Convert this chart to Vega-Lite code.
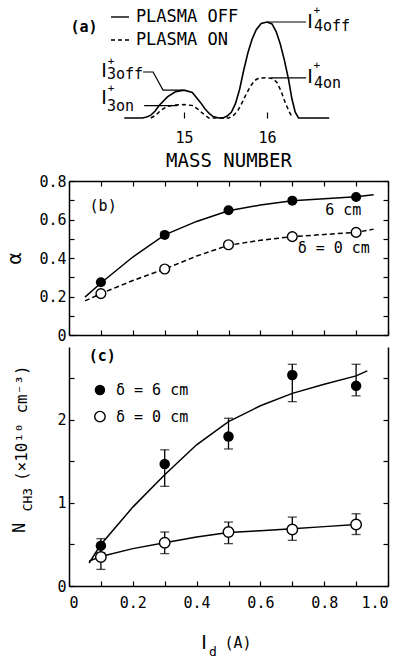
{
  "$schema": "https://vega.github.io/schema/vega-lite/v6.json",
  "padding": {"left": 4, "top": 5, "right": 5, "bottom": 5},
  "spacing": 4,
  "config": {
    "view": {"stroke": null},
    "font": "DejaVu Sans Mono",
    "axis": {"grid": false, "domainColor": "black", "domainWidth": 1.5, "tickColor": "black", "tickWidth": 1.2, "tickSize": -5, "labelColor": "black", "labelFont": "DejaVu Sans Mono", "labelFontSize": 15, "titleFont": "DejaVu Sans Mono", "titleFontSize": 16, "titleFontWeight": "normal", "titleColor": "black", "labelPadding": 8},
    "text": {"font": "DejaVu Sans Mono", "fontSize": 15, "color": "black"}
  },
  "datasets": {
    "aCurve": [
      {"x": 14.28, "y": 0, "s": "off"}, {"x": 14.5, "y": 0, "s": "off"}, {"x": 14.55, "y": 0.01, "s": "off"}, {"x": 14.6, "y": 0.03, "s": "off"}, {"x": 14.65, "y": 0.07, "s": "off"}, {"x": 14.7, "y": 0.13, "s": "off"}, {"x": 14.8, "y": 0.22, "s": "off"}, {"x": 14.9, "y": 0.275, "s": "off"}, {"x": 15.0, "y": 0.29, "s": "off"}, {"x": 15.1, "y": 0.265, "s": "off"}, {"x": 15.2, "y": 0.16, "s": "off"}, {"x": 15.25, "y": 0.1, "s": "off"}, {"x": 15.3, "y": 0.05, "s": "off"}, {"x": 15.35, "y": 0.015, "s": "off"}, {"x": 15.42, "y": 0, "s": "off"},
      {"x": 15.47, "y": 0, "s": "off"}, {"x": 15.52, "y": 0.02, "s": "off"}, {"x": 15.57, "y": 0.06, "s": "off"}, {"x": 15.62, "y": 0.15, "s": "off"}, {"x": 15.67, "y": 0.3, "s": "off"}, {"x": 15.72, "y": 0.5, "s": "off"}, {"x": 15.77, "y": 0.68, "s": "off"}, {"x": 15.82, "y": 0.82, "s": "off"}, {"x": 15.87, "y": 0.92, "s": "off"}, {"x": 15.93, "y": 0.985, "s": "off"}, {"x": 16.0, "y": 1.0, "s": "off"}, {"x": 16.06, "y": 0.98, "s": "off"}, {"x": 16.11, "y": 0.9, "s": "off"}, {"x": 16.16, "y": 0.77, "s": "off"}, {"x": 16.21, "y": 0.6, "s": "off"}, {"x": 16.26, "y": 0.4, "s": "off"}, {"x": 16.3, "y": 0.2, "s": "off"}, {"x": 16.34, "y": 0.06, "s": "off"}, {"x": 16.38, "y": 0, "s": "off"}, {"x": 16.75, "y": 0, "s": "off"},
      {"x": 14.6, "y": 0, "s": "on"}, {"x": 14.66, "y": 0.03, "s": "on"}, {"x": 14.72, "y": 0.08, "s": "on"}, {"x": 14.8, "y": 0.12, "s": "on"}, {"x": 14.88, "y": 0.135, "s": "on"}, {"x": 15.0, "y": 0.14, "s": "on"}, {"x": 15.1, "y": 0.13, "s": "on"}, {"x": 15.17, "y": 0.09, "s": "on"}, {"x": 15.23, "y": 0.045, "s": "on"}, {"x": 15.3, "y": 0, "s": "on"},
      {"x": 15.54, "y": 0, "s": "on"}, {"x": 15.6, "y": 0.03, "s": "on"}, {"x": 15.65, "y": 0.08, "s": "on"}, {"x": 15.7, "y": 0.16, "s": "on"}, {"x": 15.75, "y": 0.25, "s": "on"}, {"x": 15.8, "y": 0.33, "s": "on"}, {"x": 15.85, "y": 0.39, "s": "on"}, {"x": 15.9, "y": 0.415, "s": "on"}, {"x": 16.0, "y": 0.42, "s": "on"}, {"x": 16.07, "y": 0.41, "s": "on"}, {"x": 16.12, "y": 0.37, "s": "on"}, {"x": 16.17, "y": 0.28, "s": "on"}, {"x": 16.22, "y": 0.16, "s": "on"}, {"x": 16.27, "y": 0.06, "s": "on"}, {"x": 16.31, "y": 0, "s": "on"}
    ],
    "aLeg": [
      {"x": 14.12, "x2": 14.337, "y": 1.052, "s": "off"},
      {"x": 14.12, "x2": 14.337, "y": 0.8125, "s": "on"}
    ],
    "aLead": [
      {"x": 16.0, "y": 1.0, "id": "a"}, {"x": 16.47, "y": 1.0, "id": "a"},
      {"x": 16.05, "y": 0.417, "id": "b"}, {"x": 16.47, "y": 0.417, "id": "b"},
      {"x": 14.506, "y": 0.479, "id": "c"}, {"x": 14.627, "y": 0.479, "id": "c"}, {"x": 14.747, "y": 0.29, "id": "c"}, {"x": 14.988, "y": 0.29, "id": "c"},
      {"x": 14.52, "y": 0.128, "id": "d"}, {"x": 14.92, "y": 0.128, "id": "d"}
    ],
    "aText": [
      {"x": 14.42, "y": 1.052, "t": "PLASMA OFF", "k": "leg"},
      {"x": 14.42, "y": 0.8125, "t": "PLASMA  ON", "k": "leg"},
      {"x": 13.795, "y": 0.948, "t": "(a)", "k": "leg2"},
      {"x": 16.518, "y": 1.0, "t": "I", "k": "I"},
      {"x": 16.518, "y": 0.427, "t": "I", "k": "I"},
      {"x": 14.036, "y": 0.49, "t": "I", "k": "I"},
      {"x": 14.036, "y": 0.208, "t": "I", "k": "I"},
      {"x": 16.6, "y": 1.11, "t": "+", "k": "plus"},
      {"x": 16.6, "y": 0.545, "t": "+", "k": "plus"},
      {"x": 14.12, "y": 0.58, "t": "+", "k": "plus"},
      {"x": 14.12, "y": 0.305, "t": "+", "k": "plus"},
      {"x": 16.566, "y": 0.96, "t": "4off", "k": "sub"},
      {"x": 16.566, "y": 0.36, "t": "4on", "k": "sub"},
      {"x": 14.072, "y": 0.46, "t": "3off", "k": "sub"},
      {"x": 14.072, "y": 0.12, "t": "3on", "k": "sub"}
    ],
    "bPts": [
      {"x": 0.1, "s": "6", "y": 0.274}, {"x": 0.3, "s": "6", "y": 0.52}, {"x": 0.5, "s": "6", "y": 0.648}, {"x": 0.7, "s": "6", "y": 0.698}, {"x": 0.9, "s": "6", "y": 0.717},
      {"x": 0.1, "s": "0", "y": 0.215}, {"x": 0.3, "s": "0", "y": 0.343}, {"x": 0.5, "s": "0", "y": 0.469}, {"x": 0.7, "s": "0", "y": 0.511}, {"x": 0.9, "s": "0", "y": 0.533}
    ],
    "bFit": [
      {"x": 0.05, "y": 0.197, "s": "6"}, {"x": 0.1, "y": 0.27, "s": "6"}, {"x": 0.2, "y": 0.405, "s": "6"}, {"x": 0.3, "y": 0.52, "s": "6"}, {"x": 0.4, "y": 0.59, "s": "6"}, {"x": 0.5, "y": 0.645, "s": "6"}, {"x": 0.6, "y": 0.675, "s": "6"}, {"x": 0.7, "y": 0.697, "s": "6"}, {"x": 0.8, "y": 0.708, "s": "6"}, {"x": 0.9, "y": 0.718, "s": "6"}, {"x": 0.955, "y": 0.728, "s": "6"},
      {"x": 0.05, "y": 0.177, "s": "0"}, {"x": 0.1, "y": 0.215, "s": "0"}, {"x": 0.2, "y": 0.283, "s": "0"}, {"x": 0.3, "y": 0.343, "s": "0"}, {"x": 0.4, "y": 0.41, "s": "0"}, {"x": 0.5, "y": 0.466, "s": "0"}, {"x": 0.6, "y": 0.492, "s": "0"}, {"x": 0.7, "y": 0.511, "s": "0"}, {"x": 0.8, "y": 0.522, "s": "0"}, {"x": 0.9, "y": 0.533, "s": "0"}, {"x": 0.955, "y": 0.55, "s": "0"}
    ],
    "bText": [
      {"x": 0.107, "y": 0.67, "t": "(b)"},
      {"x": 0.86, "y": 0.65, "t": "6 cm"},
      {"x": 0.83, "y": 0.45, "t": "δ = 0 cm"}
    ],
    "cPts": [
      {"x": 0.1, "s": "6", "y": 0.486, "lo": 0.4, "hi": 0.57},
      {"x": 0.3, "s": "6", "y": 1.47, "lo": 1.2, "hi": 1.64},
      {"x": 0.5, "s": "6", "y": 1.8, "lo": 1.65, "hi": 2.02},
      {"x": 0.7, "s": "6", "y": 2.54, "lo": 2.22, "hi": 2.67},
      {"x": 0.9, "s": "6", "y": 2.41, "lo": 2.29, "hi": 2.67},
      {"x": 0.1, "s": "0", "y": 0.35, "lo": 0.2, "hi": 0.47},
      {"x": 0.3, "s": "0", "y": 0.52, "lo": 0.39, "hi": 0.65},
      {"x": 0.5, "s": "0", "y": 0.65, "lo": 0.51, "hi": 0.77},
      {"x": 0.7, "s": "0", "y": 0.68, "lo": 0.55, "hi": 0.83},
      {"x": 0.9, "s": "0", "y": 0.74, "lo": 0.62, "hi": 0.87}
    ],
    "cFit": [
      {"x": 0.063, "y": 0.277, "s": "6"}, {"x": 0.1, "y": 0.5, "s": "6"}, {"x": 0.2, "y": 0.95, "s": "6"}, {"x": 0.3, "y": 1.34, "s": "6"}, {"x": 0.4, "y": 1.7, "s": "6"}, {"x": 0.5, "y": 1.98, "s": "6"}, {"x": 0.6, "y": 2.17, "s": "6"}, {"x": 0.7, "y": 2.32, "s": "6"}, {"x": 0.8, "y": 2.43, "s": "6"}, {"x": 0.9, "y": 2.53, "s": "6"}, {"x": 0.935, "y": 2.59, "s": "6"},
      {"x": 0.063, "y": 0.3, "s": "0"}, {"x": 0.1, "y": 0.355, "s": "0"}, {"x": 0.2, "y": 0.45, "s": "0"}, {"x": 0.3, "y": 0.52, "s": "0"}, {"x": 0.4, "y": 0.59, "s": "0"}, {"x": 0.5, "y": 0.645, "s": "0"}, {"x": 0.6, "y": 0.665, "s": "0"}, {"x": 0.7, "y": 0.69, "s": "0"}, {"x": 0.8, "y": 0.715, "s": "0"}, {"x": 0.9, "y": 0.74, "s": "0"}
    ],
    "cLeg": [
      {"x": 0.097, "y": 2.36, "s": "6", "t": "δ = 6 cm"},
      {"x": 0.097, "y": 2.04, "s": "0", "t": "δ = 0 cm"}
    ],
    "cText": [
      {"x": 0.104, "y": 2.77, "t": "(c)", "k": "lbl"},
      {"x": 0.423, "y": -0.69, "t": "I", "k": "I"},
      {"x": 0.451, "y": -0.8, "t": "d", "k": "d"},
      {"x": 0.53, "y": -0.69, "t": "(A)", "k": "A"},
      {"x": -0.154, "y": 0.7, "t": "N", "k": "N"},
      {"x": -0.13, "y": 1.04, "t": "CH3", "k": "CH"},
      {"x": -0.146, "y": 1.96, "t": "(×10¹⁰ cm⁻³)", "k": "unit"}
    ]
  },
  "vconcat": [
    {
      "width": 319, "height": 113,
      "layer": [
        {"data": {"name": "aCurve"}, "transform": [{"filter": "datum.s == 'off'"}],
         "mark": {"type": "line", "color": "black", "strokeWidth": 1.6},
         "encoding": {
           "x": {"field": "x", "type": "quantitative", "scale": {"domain": [13.614, 17.458], "nice": false, "zero": false},
                 "axis": {"values": [15, 16], "domain": false, "tickSize": -6, "format": "d", "title": "MASS NUMBER", "titleFontSize": 19, "labelPadding": 18, "titlePadding": 6}},
           "y": {"field": "y", "type": "quantitative", "scale": {"domain": [0, 1.177], "nice": false}, "axis": null}}},
        {"data": {"name": "aCurve"}, "transform": [{"filter": "datum.s == 'on'"}],
         "mark": {"type": "line", "color": "black", "strokeWidth": 1.5, "strokeDash": [4, 3]},
         "encoding": {"x": {"field": "x", "type": "quantitative"}, "y": {"field": "y", "type": "quantitative"}}},
        {"data": {"name": "aLeg"}, "transform": [{"filter": "datum.s == 'off'"}],
         "mark": {"type": "rule", "color": "black", "strokeWidth": 1.4},
         "encoding": {"x": {"field": "x", "type": "quantitative"}, "x2": {"field": "x2"}, "y": {"field": "y", "type": "quantitative"}}},
        {"data": {"name": "aLeg"}, "transform": [{"filter": "datum.s == 'on'"}],
         "mark": {"type": "rule", "color": "black", "strokeWidth": 1.4, "strokeDash": [4, 3]},
         "encoding": {"x": {"field": "x", "type": "quantitative"}, "x2": {"field": "x2"}, "y": {"field": "y", "type": "quantitative"}}},
        {"data": {"name": "aLead"},
         "mark": {"type": "line", "color": "black", "strokeWidth": 1.2},
         "encoding": {"x": {"field": "x", "type": "quantitative"}, "y": {"field": "y", "type": "quantitative"}, "detail": {"field": "id"}}},
        {"data": {"name": "aText"}, "transform": [{"filter": "datum.k == 'leg'"}],
         "mark": {"type": "text", "align": "left", "baseline": "middle", "fontSize": 17},
         "encoding": {"x": {"field": "x", "type": "quantitative"}, "y": {"field": "y", "type": "quantitative"}, "text": {"field": "t"}}},
        {"data": {"name": "aText"}, "transform": [{"filter": "datum.k == 'leg2'"}],
         "mark": {"type": "text", "align": "center", "baseline": "middle", "fontSize": 15, "fontWeight": "bold"},
         "encoding": {"x": {"field": "x", "type": "quantitative"}, "y": {"field": "y", "type": "quantitative"}, "text": {"field": "t"}}},
        {"data": {"name": "aText"}, "transform": [{"filter": "datum.k == 'I'"}],
         "mark": {"type": "text", "align": "center", "baseline": "middle", "fontSize": 19, "font": "DejaVu Sans"},
         "encoding": {"x": {"field": "x", "type": "quantitative"}, "y": {"field": "y", "type": "quantitative"}, "text": {"field": "t"}}},
        {"data": {"name": "aText"}, "transform": [{"filter": "datum.k == 'plus'"}],
         "mark": {"type": "text", "align": "center", "baseline": "middle", "fontSize": 11},
         "encoding": {"x": {"field": "x", "type": "quantitative"}, "y": {"field": "y", "type": "quantitative"}, "text": {"field": "t"}}},
        {"data": {"name": "aText"}, "transform": [{"filter": "datum.k == 'sub'"}],
         "mark": {"type": "text", "align": "left", "baseline": "middle", "fontSize": 15},
         "encoding": {"x": {"field": "x", "type": "quantitative"}, "y": {"field": "y", "type": "quantitative"}, "text": {"field": "t"}}}
      ]
    },
    {
      "width": 319, "height": 154,
      "resolve": {"axis": {"x": "independent", "y": "independent"}},
      "layer": [
        {"data": {"name": "bFit"}, "transform": [{"filter": "datum.s == '6'"}],
         "mark": {"type": "line", "color": "black", "strokeWidth": 1.5},
         "encoding": {
           "x": {"field": "x", "type": "quantitative", "scale": {"domain": [0, 1], "nice": false},
                 "axis": {"values": [0, 0.1, 0.2, 0.3, 0.4, 0.5, 0.6, 0.7, 0.8, 0.9, 1], "labels": false, "title": null}},
           "y": {"field": "y", "type": "quantitative", "scale": {"domain": [0, 0.8], "nice": false},
                 "axis": {"values": [0, 0.1, 0.2, 0.3, 0.4, 0.5, 0.6, 0.7, 0.8], "labelExpr": "datum.value == 0 ? '0' : (round(datum.value * 10) % 2 == 0 ? format(datum.value, '.1f') : '')", "title": "α", "titleFontSize": 20, "titleX": -45, "titleY": 77}}}},
        {"data": {"name": "bFit"}, "transform": [{"filter": "datum.s == '0'"}],
         "mark": {"type": "line", "color": "black", "strokeWidth": 1.5, "strokeDash": [5, 3]},
         "encoding": {"x": {"field": "x", "type": "quantitative", "axis": null}, "y": {"field": "y", "type": "quantitative", "axis": null}}},
        {"data": {"name": "bPts"}, "transform": [{"filter": "datum.s == '6'"}],
         "mark": {"type": "point", "shape": "circle", "filled": true, "color": "black", "size": 100, "opacity": 1},
         "encoding": {"x": {"field": "x", "type": "quantitative", "axis": null}, "y": {"field": "y", "type": "quantitative", "axis": null}}},
        {"data": {"name": "bPts"}, "transform": [{"filter": "datum.s == '0'"}],
         "mark": {"type": "point", "shape": "circle", "filled": true, "fill": "white", "stroke": "black", "strokeWidth": 1.4, "size": 95, "opacity": 1},
         "encoding": {
           "x": {"field": "x", "type": "quantitative", "axis": {"orient": "top", "values": [0, 0.1, 0.2, 0.3, 0.4, 0.5, 0.6, 0.7, 0.8, 0.9, 1], "labels": false, "title": null}},
           "y": {"field": "y", "type": "quantitative", "axis": {"orient": "right", "values": [0, 0.1, 0.2, 0.3, 0.4, 0.5, 0.6, 0.7, 0.8], "labels": false, "title": null}}}},
        {"data": {"name": "bText"},
         "mark": {"type": "text", "align": "center", "baseline": "middle", "fontSize": 15},
         "encoding": {"x": {"field": "x", "type": "quantitative", "axis": null}, "y": {"field": "y", "type": "quantitative", "axis": null}, "text": {"field": "t"}}}
      ]
    },
    {
      "width": 319, "height": 239,
      "resolve": {"axis": {"x": "independent", "y": "independent"}},
      "layer": [
        {"data": {"name": "cFit"}, "transform": [{"filter": "datum.s == '6'"}],
         "mark": {"type": "line", "color": "black", "strokeWidth": 1.5},
         "encoding": {
           "x": {"field": "x", "type": "quantitative", "scale": {"domain": [0, 1], "nice": false},
                 "axis": {"values": [0, 0.1, 0.2, 0.3, 0.4, 0.5, 0.6, 0.7, 0.8, 0.9, 1], "labelExpr": "datum.value == 0 ? '0' : (round(datum.value * 10) % 2 == 0 ? format(datum.value, '.1f') : '')", "title": null, "labelPadding": 14}},
           "y": {"field": "y", "type": "quantitative", "scale": {"domain": [0, 2.878], "nice": false},
                 "axis": {"values": [0, 0.5, 1, 1.5, 2, 2.5], "labelExpr": "datum.value % 1 == 0 ? format(datum.value, 'd') : ''", "title": null}}}},
        {"data": {"name": "cFit"}, "transform": [{"filter": "datum.s == '0'"}],
         "mark": {"type": "line", "color": "black", "strokeWidth": 1.5},
         "encoding": {"x": {"field": "x", "type": "quantitative", "axis": null}, "y": {"field": "y", "type": "quantitative", "axis": null}}},
        {"data": {"name": "cPts"},
         "mark": {"type": "errorbar", "ticks": true, "size": 9, "thickness": 1.3, "color": "black"},
         "encoding": {"x": {"field": "x", "type": "quantitative", "axis": null}, "y": {"field": "lo", "type": "quantitative", "axis": null}, "y2": {"field": "hi"}}},
        {"data": {"name": "cPts"}, "transform": [{"filter": "datum.s == '6'"}],
         "mark": {"type": "point", "shape": "circle", "filled": true, "color": "black", "size": 110, "opacity": 1},
         "encoding": {"x": {"field": "x", "type": "quantitative", "axis": null}, "y": {"field": "y", "type": "quantitative", "axis": null}}},
        {"data": {"name": "cPts"}, "transform": [{"filter": "datum.s == '0'"}],
         "mark": {"type": "point", "shape": "circle", "filled": true, "fill": "white", "stroke": "black", "strokeWidth": 1.4, "size": 110, "opacity": 1},
         "encoding": {
           "x": {"field": "x", "type": "quantitative", "axis": null},
           "y": {"field": "y", "type": "quantitative", "axis": {"orient": "right", "values": [0, 0.5, 1, 1.5, 2, 2.5], "labels": false, "title": null}}}},
        {"data": {"name": "cLeg"}, "transform": [{"filter": "datum.s == '6'"}],
         "mark": {"type": "point", "shape": "circle", "filled": true, "color": "black", "size": 110, "opacity": 1},
         "encoding": {"x": {"field": "x", "type": "quantitative", "axis": null}, "y": {"field": "y", "type": "quantitative", "axis": null}}},
        {"data": {"name": "cLeg"}, "transform": [{"filter": "datum.s == '0'"}],
         "mark": {"type": "point", "shape": "circle", "filled": true, "fill": "white", "stroke": "black", "strokeWidth": 1.4, "size": 110, "opacity": 1},
         "encoding": {"x": {"field": "x", "type": "quantitative", "axis": null}, "y": {"field": "y", "type": "quantitative", "axis": null}}},
        {"data": {"name": "cLeg"},
         "mark": {"type": "text", "align": "left", "baseline": "middle", "fontSize": 15, "dx": 16},
         "encoding": {"x": {"field": "x", "type": "quantitative", "axis": null}, "y": {"field": "y", "type": "quantitative", "axis": null}, "text": {"field": "t"}}},
        {"data": {"name": "cText"}, "transform": [{"filter": "datum.k == 'lbl'"}],
         "mark": {"type": "text", "align": "center", "baseline": "middle", "fontSize": 15, "fontWeight": "bold"},
         "encoding": {"x": {"field": "x", "type": "quantitative", "axis": null}, "y": {"field": "y", "type": "quantitative", "axis": null}, "text": {"field": "t"}}},
        {"data": {"name": "cText"}, "transform": [{"filter": "datum.k == 'I'"}],
         "mark": {"type": "text", "align": "center", "baseline": "middle", "fontSize": 19, "font": "DejaVu Sans"},
         "encoding": {"x": {"field": "x", "type": "quantitative", "axis": null}, "y": {"field": "y", "type": "quantitative", "axis": null}, "text": {"field": "t"}}},
        {"data": {"name": "cText"}, "transform": [{"filter": "datum.k == 'd'"}],
         "mark": {"type": "text", "align": "center", "baseline": "middle", "fontSize": 13},
         "encoding": {"x": {"field": "x", "type": "quantitative", "axis": null}, "y": {"field": "y", "type": "quantitative", "axis": null}, "text": {"field": "t"}}},
        {"data": {"name": "cText"}, "transform": [{"filter": "datum.k == 'A'"}],
         "mark": {"type": "text", "align": "center", "baseline": "middle", "fontSize": 15},
         "encoding": {"x": {"field": "x", "type": "quantitative", "axis": null}, "y": {"field": "y", "type": "quantitative", "axis": null}, "text": {"field": "t"}}},
        {"data": {"name": "cText"}, "transform": [{"filter": "datum.k == 'N'"}],
         "mark": {"type": "text", "align": "center", "baseline": "middle", "fontSize": 17, "angle": 270},
         "encoding": {"x": {"field": "x", "type": "quantitative", "axis": null}, "y": {"field": "y", "type": "quantitative", "axis": null}, "text": {"field": "t"}}},
        {"data": {"name": "cText"}, "transform": [{"filter": "datum.k == 'CH'"}],
         "mark": {"type": "text", "align": "center", "baseline": "middle", "fontSize": 13, "angle": 270},
         "encoding": {"x": {"field": "x", "type": "quantitative", "axis": null}, "y": {"field": "y", "type": "quantitative", "axis": null}, "text": {"field": "t"}}},
        {"data": {"name": "cText"}, "transform": [{"filter": "datum.k == 'unit'"}],
         "mark": {"type": "text", "align": "center", "baseline": "middle", "fontSize": 16, "angle": 270},
         "encoding": {"x": {"field": "x", "type": "quantitative", "axis": null}, "y": {"field": "y", "type": "quantitative", "axis": null}, "text": {"field": "t"}}}
      ]
    }
  ]
}
